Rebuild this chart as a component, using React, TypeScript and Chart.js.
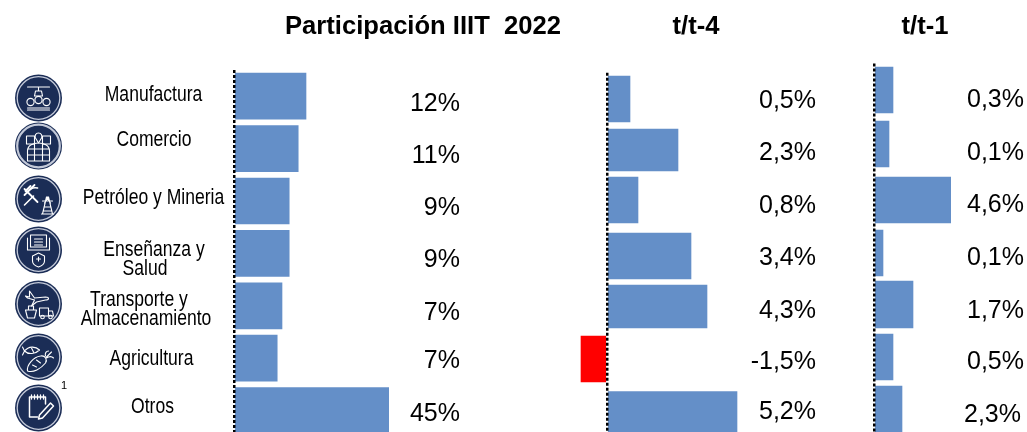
import React, { useEffect, useRef } from "react";
import { Chart, registerables } from "chart.js";

Chart.register(...registerables);

// ---- data ----
const categories = [
  ["Manufactura"],
  ["Comercio"],
  ["Petróleo y Mineria"],
  ["Enseñanza y", "Salud"],
  ["Transporte y", "Almacenamiento"],
  ["Agricultura"],
  ["Otros"],
];
const titleShare = "Participación IIIT  2022";
const titleYoY = "t/t-4";
const titleQoQ = "t/t-1";

// Bar lengths as drawn in the source (the source does not draw them to the scale of its labels).
const shareBars = [12, 10.7, 9.2, 9.2, 8, 7.2, 45];
const yoyBars = [0.92, 2.84, 1.24, 3.36, 4.0, -1.04, 5.2];
const qoqBars = [1.14, 0.9, 4.6, 0.54, 2.34, 1.14, 1.68];

const shareLabels = ["12%", "11%", "9%", "9%", "7%", "7%", "45%"];
const yoyLabels = ["0,5%", "2,3%", "0,8%", "3,4%", "4,3%", "-1,5%", "5,2%"];
const qoqLabels = ["0,3%", "0,1%", "4,6%", "0,1%", "1,7%", "0,5%", "2,3%"];

// ---- layout only ----
const W = 1027;
const CANVAS_H = 445;
const BLUE = "#648fc8";
const RED = "#ff0000";
const SANS = '"Liberation Sans", Arial, sans-serif';

const shareLabelY = [104, 156, 208, 260, 313, 361, 414];
const yoyLabelY = [101, 153, 206, 258, 311, 362, 412];
const qoqLabelY = [100, 153, 205, 258, 311, 362, 415];
const qoqLabelRight = [1024, 1024, 1024, 1024, 1024, 1024, 1021];

const categoryPlacement: [number, number][][] = [
  [[153.5, 95]],
  [[154, 140]],
  [[153.5, 198]],
  [[154, 250], [145, 269]],
  [[139, 300], [146, 319]],
  [[151.5, 359]],
  [[152.5, 407]],
];

type T = { s: string; x: number; y: number; font: string; align: CanvasTextAlign; sx?: number };

function textPlugin(items: T[]) {
  return {
    id: "texts",
    afterDraw(chart: any) {
      const c = chart.ctx;
      c.save();
      c.fillStyle = "#000";
      c.textBaseline = "middle";
      for (const t of items) {
        c.save();
        c.font = t.font;
        c.textAlign = t.align;
        c.translate(t.x, t.y);
        c.scale(t.sx ?? 1, 1);
        c.fillText(t.s, 0, 0);
        c.restore();
      }
      c.restore();
    },
  };
}

// Row alignment tweaks: the source's rows are not perfectly evenly spaced.
function rowPlugin(offsets: number[], heights: number[]) {
  return {
    id: "rows",
    afterDatasetsUpdate(chart: any) {
      chart.getDatasetMeta(0).data.forEach((el: any, i: number) => {
        el.y += offsets[i];
        el.height = heights[i];
      });
    },
  };
}

function makeChart(
  canvas: HTMLCanvasElement,
  values: number[],
  min: number,
  max: number,
  padding: { left: number; right: number; top: number; bottom: number },
  plugins: any[]
) {
  return new Chart(canvas, {
    type: "bar",
    data: {
      labels: categories.map((c) => c.join(" ")),
      datasets: [
        {
          data: values,
          barThickness: 46,
          backgroundColor: (ctx: any) => (ctx.raw < 0 ? RED : BLUE),
        } as any,
      ],
    },
    options: {
      indexAxis: "y",
      responsive: false,
      animation: false,
      layout: { padding },
      plugins: { legend: { display: false }, tooltip: { enabled: false }, title: { display: false } },
      scales: {
        x: {
          min,
          max,
          afterBuildTicks: (axis: any) => {
            axis.ticks = [{ value: 0 }];
          },
          ticks: { display: false },
          grid: { color: "#000", lineWidth: 2.5, drawTicks: false, z: 2 },
          border: { display: false, dash: [3, 2] },
        },
        y: { display: false, grid: { display: false } },
      },
    },
    plugins,
  });
}

function Icon({ cy, children, ring = 1.3 }: { cy: number; children: React.ReactNode; ring?: number }) {
  return (
    <g transform={`translate(38.5 ${cy})`}>
      <circle r={23.5} fill="#1b2d56" />
      <circle r={21.3} fill="none" stroke="#c3c9d8" strokeWidth={ring} />
      <g fill="none" stroke="#fff" strokeWidth={1.1} strokeLinejoin="round" strokeLinecap="round">
        {children}
      </g>
    </g>
  );
}

function Icons() {
  return (
    <svg width={80} height={432} style={{ position: "absolute", left: 0, top: 0 }}>
      <Icon cy={98}>
        <path d="M-11 -11H11M0 -11V-7M-3 -7H3L4 -2H-4Z" />
        <circle cx={-8} cy={4} r={3.6} />
        <circle cx={0} cy={2} r={3.6} />
        <circle cx={8} cy={4} r={3.6} />
        <path d="M-11 10H11M-11 12H11" />
      </Icon>
      <Icon cy={146} ring={2.2}>
        <path d="M-12 -10H-4V-2H-12ZM4 -10H12V-2H4Z" />
        <path d="M0 -13C3 -13 4 -10 3 -8L0 -3L-3 -8C-4 -10 -3 -13 0 -13Z" />
        <path d="M-11 15V5C-11 -1 -5 -3 0 -3C5 -3 11 -1 11 5V15ZM-11 3H11M-11 9H11M-4 -3V15M4 -3V15" />
      </Icon>
      <Icon cy={199}>
        <path d="M-14 -10L-1 3M-4 -14L-14 -4M-8 -13L-13 -8" strokeWidth={1.8} />
        <path d="M-5 -3L-14 6M-1 -11C-5 -12 -9 -10 -12 -6" strokeWidth={1.6} />
        <path d="M4 15L8 -2H10L14 15ZM6 8H12M5 12H13M8 -2L12 4M10 -2L6 4M3 15H15M4 2H14" />
      </Icon>
      <Icon cy={250}>
        <path d="M-8 -15H8V-3H-8ZM-11 -12V0H11V-12M-11 0H11M-4 -11H4M-4 -8H4M-4 -5H4" />
        <path d="M0 3L6 6V11C6 14 3 16 0 17C-3 16 -6 14 -6 11V6Z" />
        <path d="M-2 9H2M0 7V11" />
      </Icon>
      <Icon cy={304}>
        <path d="M-9 -13L-4 -6L7 -7C11 -7 11 -4 7 -4L-2 -2L-7 2L-4 -4L-11 -6L-13 -8L-9 -7Z" />
        <path d="M-13 6H-2L-4 14H-11ZM-10 6V2H-5V6" />
        <path d="M1 4H10V12H1ZM10 7H14L15 12H10" />
        <circle cx={4} cy={13} r={1.8} />
        <circle cx={12} cy={13} r={1.8} />
      </Icon>
      <Icon cy={357}>
        <path d="M-14 -6C-10 -11 -3 -11 1 -7C-3 -3 -10 -2 -14 -6ZM-14 -6L-16 -10M-14 -6L-16 -2M-7 -9L-5 -5" />
        <path d="M-11 14C-12 8 -5 0 2 -1C7 -2 9 3 7 6C2 12 -5 16 -11 14ZM-6 8L-2 10M-2 3L2 6" />
        <path d="M7 -1C6 -4 8 -6 10 -6M8 1C11 -1 13 -1 15 1M8 0L13 -5" />
      </Icon>
      <Icon cy={408}>
        <path d="M7 -4V-11H-9V9H-1" strokeWidth={1.5} />
        <path d="M-7 -13V-9M-4 -13V-9M-1 -13V-9M2 -13V-9M5 -13V-9" strokeWidth={1.3} />
        <path d="M1 7L12 -5L15 -2L4 10L0 11Z" strokeWidth={1.5} />
      </Icon>
    </svg>
  );
}

export default function App() {
  const a = useRef<HTMLCanvasElement>(null);
  const b = useRef<HTMLCanvasElement>(null);
  const c = useRef<HTMLCanvasElement>(null);

  useEffect(() => {
    const valueFont = `25px ${SANS}`;
    const titleFont = `bold 25.6px ${SANS}`;
    const narrowFont = `22px ${SANS}`;

    const catTexts: T[] = categories.flatMap((lines, i) =>
      lines.map((s, j) => ({
        s,
        x: categoryPlacement[i][j][0],
        y: categoryPlacement[i][j][1],
        font: narrowFont,
        align: "center" as CanvasTextAlign,
        sx: 0.797,
      }))
    );
    const values = (labels: string[], ys: number[], right: number[]): T[] =>
      labels.map((s, i) => ({ s, x: right[i], y: ys[i], font: valueFont, align: "right" as CanvasTextAlign }));

    const charts = [
      makeChart(a.current!, shareBars, 0, 155 / 6, { left: 234, right: W - 389, top: 70, bottom: CANVAS_H - 436.8 }, [
        textPlugin([
          { s: titleShare, x: 423, y: 27, font: titleFont, align: "center" },
          ...catTexts,
          { s: "1", x: 64, y: 386, font: `11px ${SANS}`, align: "center" },
          ...values(shareLabels, shareLabelY, shareLabels.map(() => 460)),
        ]),
      ]),
      makeChart(b.current!, yoyBars, -2, 6, { left: 557, right: W - 757, top: 72.75, bottom: CANVAS_H - 440.25 }, [
        rowPlugin([0, -1.5, -4, -0.5, -2.5, -2.5, 0.5], [46, 42, 46, 46, 43, 46, 46]),
        textPlugin([
          { s: titleYoY, x: 696, y: 27, font: titleFont, align: "center" },
          ...values(yoyLabels, yoyLabelY, yoyLabels.map(() => 816)),
        ]),
      ]),
      makeChart(c.current!, qoqBars, 0, 6, { left: 874, right: W - 974, top: 63.4, bottom: CANVAS_H - 435.8 }, [
        rowPlugin([0, 0.8, 3.6, 3.4, 1.7, 1, -0.2], [46, 46, 46, 46, 47, 46, 46]),
        textPlugin([
          { s: titleQoQ, x: 925, y: 27, font: titleFont, align: "center" },
          ...values(qoqLabels, qoqLabelY, qoqLabelRight),
        ]),
      ]),
    ];
    return () => charts.forEach((ch) => ch.destroy());
  }, []);

  const canvasStyle: React.CSSProperties = { position: "absolute", left: 0, top: 0 };
  return (
    <div style={{ position: "fixed", left: 0, top: 0, width: W, height: 432, overflow: "hidden", background: "#fff" }}>
      <Icons />
      <canvas ref={a} width={W} height={CANVAS_H} style={canvasStyle} />
      <canvas ref={b} width={W} height={CANVAS_H} style={canvasStyle} />
      <canvas ref={c} width={W} height={CANVAS_H} style={canvasStyle} />
    </div>
  );
}
